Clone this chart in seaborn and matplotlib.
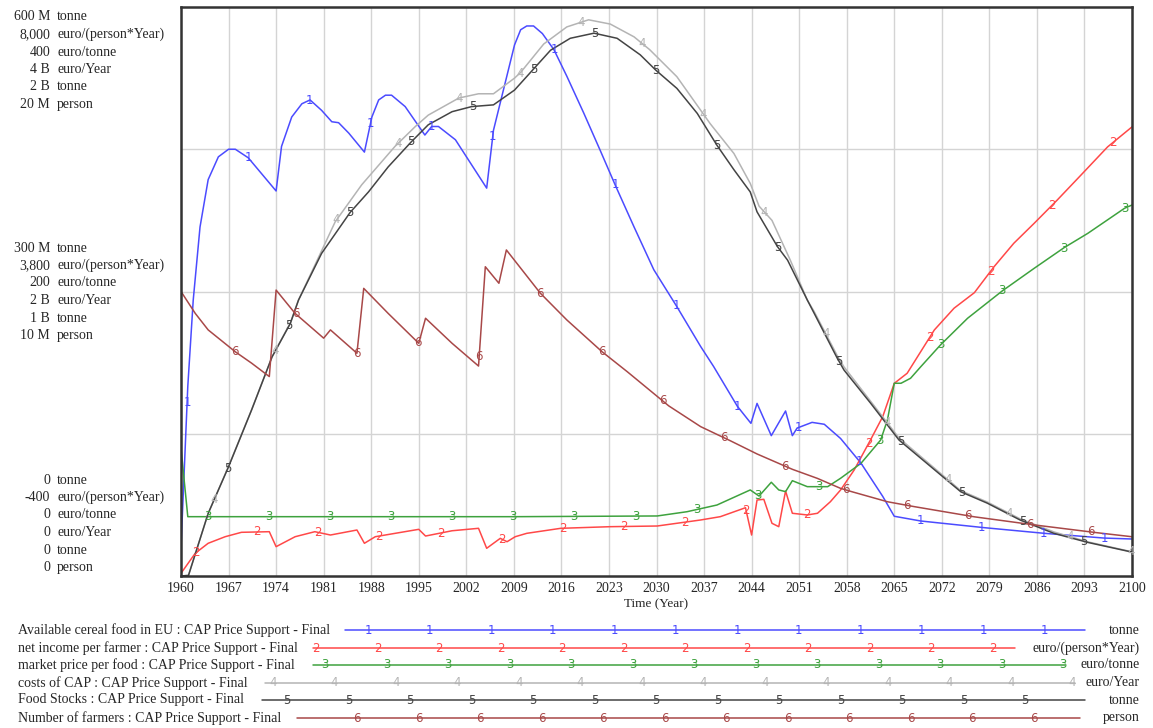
import numpy as np
import pandas as pd
import matplotlib
matplotlib.use("Agg")
import matplotlib.pyplot as plt
import seaborn as sns

# ---------------- data ----------------
# 1: Available cereal food in EU (M tonne), scale 0..600 M
food_years = [1960.0, 1961.0, 1961.8, 1962.8, 1964.0, 1965.5, 1967.0, 1968.0, 1969.9, 1974.0,
              1974.8, 1976.3, 1977.8, 1979.0, 1980.7, 1982.2, 1983.2, 1984.7, 1987.0, 1988.1,
              1989.1, 1990.1, 1991.0, 1993.0, 1995.9, 1996.9, 1997.9, 2000.4, 2005.0, 2006.0,
              2009.1, 2010.0, 2010.9, 2011.9, 2013.2, 2014.9, 2016.8, 2019.3, 2021.7, 2024.0,
              2026.7, 2029.6, 2033.0, 2036.5, 2038.4, 2041.9, 2043.9, 2044.8, 2046.9, 2049.0,
              2050.0, 2050.7, 2052.9, 2054.7, 2057.1, 2060.1, 2063.3, 2065.0, 2068.9, 2078.2,
              2087.1, 2095.9, 2100.0]
food_vals = [30, 200, 291, 368, 418, 442, 450, 450, 441, 406,
             453, 484, 498, 502, 491, 479, 478, 467, 447, 484,
             502, 507, 507, 495, 465, 474, 474, 460, 409, 470,
             560, 576, 580, 580, 572, 555, 527, 488, 449, 411,
             368, 323, 284, 242, 221, 179, 161, 182, 148, 174,
             148, 156, 162, 160, 145, 119, 84, 63, 58, 51,
             45, 40, 39]

# 2: net income per farmer (euro/(person*Year)), scale -400..8000
income_years = [1960.0, 1962.1, 1964.0, 1966.5, 1968.9, 1973.0, 1974.0, 1976.8, 1979.7, 1982.0,
                1985.9, 1987.0, 1988.6, 1995.0, 1996.0, 1999.9, 2003.8, 2005.0, 2007.0, 2008.0,
                2009.2, 2010.9, 2015.9, 2023.2, 2030.1, 2036.5, 2039.4, 2043.1, 2044.0, 2044.8,
                2045.8, 2047.0, 2048.0, 2049.0, 2050.0, 2052.2, 2053.7, 2055.6, 2057.1, 2059.1,
                2061.5, 2063.3, 2065.0, 2066.9, 2070.9, 2073.8, 2076.8, 2079.7, 2082.6, 2085.6,
                2089.0, 2092.5, 2096.4, 2100.0]
income_vals = [-360, -64, 83, 180, 245, 254, 33, 180, 254, 205,
               279, 83, 180, 289, 190, 268, 304, 9, 156, 106,
               180, 230, 304, 328, 338, 427, 476, 608, 205, 722,
               732, 378, 328, 855, 526, 501, 526, 697, 870, 1165,
               1608, 1952, 2444, 2593, 3232, 3553, 3783, 4167, 4512, 4807,
               5151, 5520, 5934, 6230]

# 3: market price per food (euro/tonne), scale 0..400
price_years = [1960.0, 1961.0, 2009.2, 2030.1, 2034.5, 2038.9, 2043.8, 2045.1, 2046.9, 2048.0,
               2049.0, 2050.0, 2052.2, 2055.2, 2057.1, 2060.1, 2063.0, 2064.0, 2065.0, 2066.0,
               2067.4, 2068.9, 2071.8, 2075.8, 2080.9, 2085.6, 2090.0, 2093.5, 2098.9, 2100.0]
price_vals = [89.8, 41.7, 41.7, 42.2, 45.2, 49.9, 60.5, 56.2, 65.9, 60.5,
              59.3, 67.0, 62.8, 62.8, 68.7, 79.2, 95.6, 109.7, 135.5, 135.5,
              139.0, 147.1, 162.4, 181.2, 200.4, 216.3, 230.8, 240.9, 258.5, 260.8]

# 4: costs of CAP (B euro/Year), scale 0..4 B
cost_years = [1960.0, 1961.1, 1964.0, 1967.0, 1970.4, 1973.4, 1976.1, 1977.3, 1982.7, 1986.6,
              1991.5, 1994.5, 1996.4, 2000.9, 2003.8, 2006.0, 2009.1, 2010.0, 2013.4, 2016.8,
              2020.0, 2023.2, 2026.7, 2029.0, 2033.0, 2037.9, 2041.4, 2043.8, 2045.1, 2047.0,
              2049.7, 2052.2, 2053.2, 2056.6, 2057.6, 2061.5, 2065.7, 2068.9, 2074.8, 2078.7,
              2083.6, 2088.5, 2093.5, 2100.0]
cost_vals = [0.0, 0.004, 0.44, 0.77, 1.17, 1.54, 1.78, 1.94, 2.49, 2.75,
             3.02, 3.16, 3.24, 3.36, 3.39, 3.39, 3.50, 3.54, 3.74, 3.86,
             3.91, 3.88, 3.79, 3.70, 3.51, 3.18, 2.97, 2.76, 2.60, 2.50,
             2.22, 1.94, 1.86, 1.55, 1.47, 1.23, 0.97, 0.84, 0.60, 0.52,
             0.40, 0.31, 0.24, 0.17]

# 5: Food Stocks (B tonne), scale 0..2 B
stock_years = [1960.0, 1961.1, 1964.0, 1967.0, 1970.4, 1973.4, 1976.1, 1977.3, 1980.7, 1984.9,
               1987.6, 1990.5, 1993.9, 1996.4, 1999.9, 2002.8, 2006.0, 2009.1, 2011.9, 2014.4,
               2017.3, 2020.8, 2024.2, 2027.6, 2029.9, 2033.0, 2036.0, 2038.9, 2041.4, 2043.8,
               2044.8, 2047.8, 2049.3, 2052.2, 2053.2, 2056.6, 2057.6, 2061.5, 2065.7, 2068.9,
               2074.8, 2078.7, 2083.6, 2088.5, 2093.5, 2100.0]
stock_vals = [0.0, 0.002, 0.22, 0.384, 0.584, 0.77, 0.888, 0.97, 1.134, 1.278,
              1.35, 1.438, 1.526, 1.586, 1.632, 1.65, 1.656, 1.708, 1.782, 1.848,
              1.89, 1.908, 1.89, 1.832, 1.778, 1.714, 1.626, 1.514, 1.428, 1.35,
              1.28, 1.158, 1.11, 0.97, 0.924, 0.766, 0.724, 0.608, 0.478, 0.414,
              0.296, 0.256, 0.196, 0.15, 0.118, 0.084]

# 6: Number of farmers (M person), scale 0..20 M
farm_years = [1960.0, 1962.1, 1964.0, 1968.0, 1970.4, 1973.0, 1974.0, 1976.8, 1981.0, 1982.0,
              1985.9, 1986.9, 1990.5, 1995.0, 1996.0, 1999.9, 2003.8, 2004.8, 2006.8, 2007.9,
              2010.4, 2012.9, 2016.8, 2022.0, 2025.7, 2031.8, 2036.5, 2040.9, 2044.8, 2050.0,
              2053.7, 2057.1, 2058.8, 2064.0, 2067.9, 2076.8, 2085.8, 2094.9, 2100.0]
farm_vals = [10.0, 9.23, 8.65, 7.88, 7.48, 7.01, 10.05, 9.23, 8.36, 8.65,
             7.83, 10.11, 9.23, 8.18, 9.06, 8.18, 7.38, 10.87, 10.29, 11.46,
             10.70, 9.94, 9.00, 7.88, 7.18, 5.98, 5.25, 4.75, 4.29, 3.75,
             3.43, 3.08, 2.96, 2.61, 2.44, 2.08, 1.79, 1.52, 1.38]

series_names = ["Available cereal food in EU", "net income per farmer", "market price per food",
                "costs of CAP", "Food Stocks", "Number of farmers"]
units = ["tonne", "euro/(person*Year)", "euro/tonne", "euro/Year", "tonne", "person"]
scale_lo = [0, -400, 0, 0, 0, 0]
scale_hi = [600, 8000, 400, 4, 2, 20]
top_labels = ["600 M", "8,000", "400", "4 B", "2 B", "20 M"]
mid_labels = ["300 M", "3,800", "200", "2 B", "1 B", "10 M"]
bot_labels = ["0", "-400", "0", "0", "0", "0"]
year_ticks = list(range(1960, 2101, 7))

colors = ["#4b4bff", "#ff4848", "#3ea23e", "#b4b4b4", "#444444", "#a84848"]

# ---------------- build long-form table ----------------
all_years = [food_years, income_years, price_years, cost_years, stock_years, farm_years]
all_vals = [food_vals, income_vals, price_vals, cost_vals, stock_vals, farm_vals]
frames = []
for i, (yr, vl) in enumerate(zip(all_years, all_vals)):
    vl = np.asarray(vl, dtype=float)
    frac = (vl - scale_lo[i]) / (scale_hi[i] - scale_lo[i])
    frames.append(pd.DataFrame({"year": yr, "frac": frac, "series": series_names[i]}))
df = pd.concat(frames, ignore_index=True)

# ---------------- figure ----------------
sns.set_style("white")
plt.rcParams["font.family"] = ["Liberation Serif", "DejaVu Serif"]

W, H = 1153, 728
fig = plt.figure(figsize=(W / 100, H / 100), dpi=100)
L, R, T, B = 181, 1132, 7, 576
ax = fig.add_axes([L / W, 1 - B / H, (R - L) / W, (B - T) / H])

sns.lineplot(data=df, x="year", y="frac", hue="series", hue_order=series_names,
             palette=colors, estimator=None, legend=False, linewidth=1.1, ax=ax, sort=False)

ax.set_xlim(1960, 2100)
ax.set_ylim(0, 1)
ax.set_xticks(year_ticks)
ax.set_xticklabels([str(y) for y in year_ticks], fontsize=10)
ax.set_yticks([0.25, 0.5, 0.75])
ax.set_yticklabels([])
ax.tick_params(length=0, pad=4)
ax.grid(True, color="#d4d4d4", linewidth=1.0)
ax.set_axisbelow(True)
for s in ax.spines.values():
    s.set_linewidth(1.8)
    s.set_color("#333333")
ax.set_xlabel("Time (Year)", fontsize=9.5, labelpad=3)
ax.set_ylabel("")

# digit markers along lines
offsets = [0.9, 2.2, 3.9, 4.9, 6.9, 7.9]
for i in range(6):
    yr = np.asarray(all_years[i]); fr = df[df.series == series_names[i]]["frac"].to_numpy()
    xs = np.arange(1960 + offsets[i], 2100, 9.0)
    for xv in xs:
        yv = np.interp(xv, yr, fr)
        ax.text(xv, yv, str(i + 1), color=colors[i], fontsize=8.5, ha="center", va="center",
                family="DejaVu Sans")

# stacked y-axis labels
def block(labels, y0):
    for k in range(6):
        yy = 1 - (y0 + k * 17.5) / H
        fig.text(50 / W, yy, labels[k], ha="right", va="center", fontsize=10)
        fig.text(57 / W, yy, units[k], ha="left", va="center", fontsize=10)

block(top_labels, 17)
block(mid_labels, 248)
block(bot_labels, 480)

# legend rows
rows_y = [630, 648, 665, 683, 700, 718]
line_start = [345, 313, 313, 265, 262, 297]
line_end = [1085, 1015, 1065, 1075, 1085, 1080]
digit_off = [23, 3, 12, 8, 25, 60]
lax = fig.add_axes([0, 0, 1, 1], facecolor="none")
lax.set_xlim(0, W)
lax.set_ylim(H, 0)
lax.axis("off")
for i in range(6):
    y = rows_y[i]
    lax.text(18, y, f"{series_names[i]} : CAP Price Support - Final", ha="left", va="center",
             fontsize=10)
    lax.plot([line_start[i], line_end[i]], [y, y], color=colors[i], lw=1.1)
    for xd in np.arange(line_start[i] + digit_off[i], line_end[i] + 1, 61.5):
        lax.text(xd, y, str(i + 1), color=colors[i], fontsize=8.5, ha="center", va="center",
                 family="DejaVu Sans")
    lax.text(1140, y, units[i], ha="right", va="center", fontsize=10)

fig.savefig("out.png", dpi=100)
